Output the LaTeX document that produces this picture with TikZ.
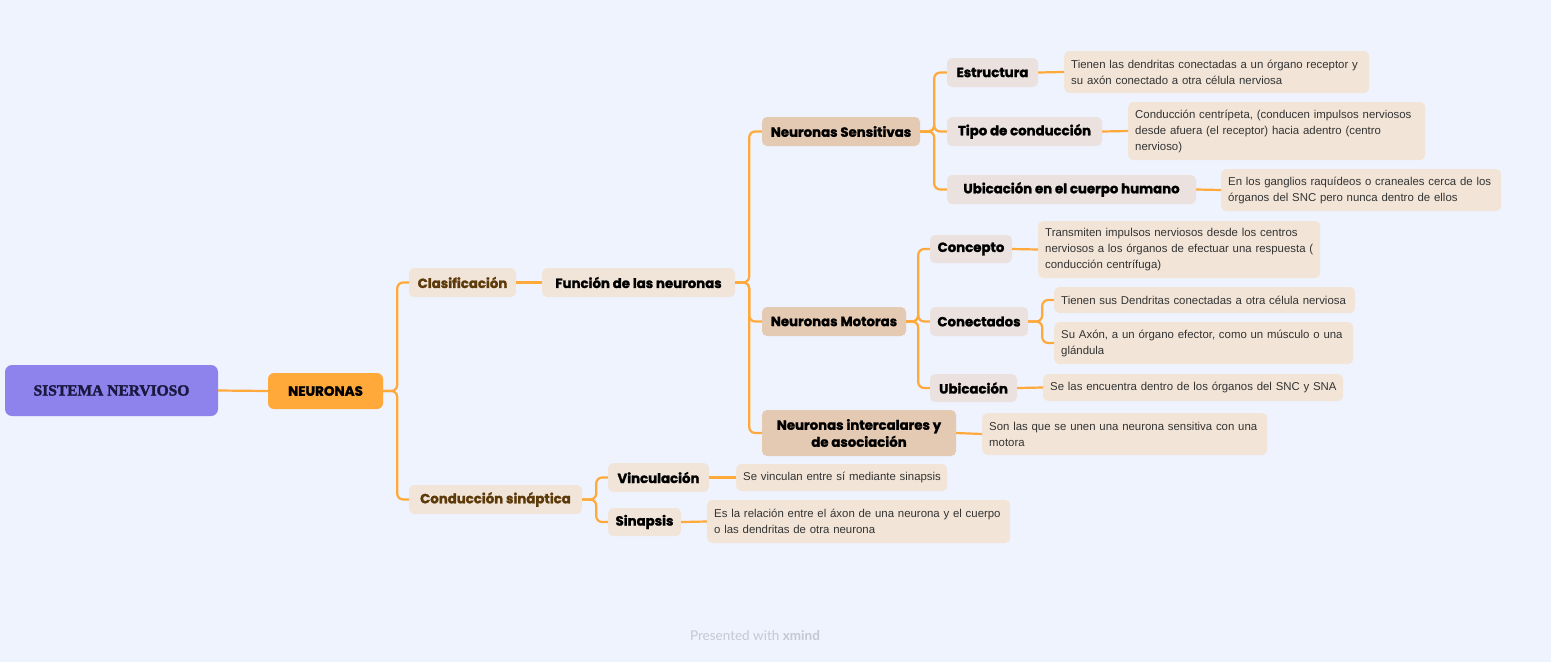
\documentclass[tikz,border=0pt]{standalone}
\usepackage{fontspec}
\setmainfont{Liberation Sans}
\newfontfamily\hfont{Poppins}[BoldFeatures={FakeBold=1.6}]
\newfontfamily\tfont{Liberation Serif}[BoldFeatures={FakeBold=2}]
\newfontfamily\pfont{Lato}
\newcommand\lne[1]{\mbox{#1}}
\definecolor{bgc}{HTML}{EEF3FE}
\definecolor{purp}{HTML}{8E83EC}
\definecolor{orng}{HTML}{FFA93A}
\definecolor{lvA}{HTML}{F1E5D9}
\definecolor{lvB}{HTML}{E4C9B3}
\definecolor{lvC}{HTML}{EBE1DF}
\definecolor{txb}{HTML}{F2E5D8}
\definecolor{brwn}{HTML}{5C3A0A}
\definecolor{navy}{HTML}{1A1840}
\definecolor{bodyc}{HTML}{333333}
\definecolor{grayt}{HTML}{C3C8D4}
\begin{document}
\begin{tikzpicture}[x=1pt,y=-1pt,
  hbox/.style={rounded corners=5pt, inner sep=0pt, align=center,
    font=\hfont\bfseries\fontsize{13.3}{15}\selectfont},
  tbox/.style={rounded corners=5pt, fill=txb, inner xsep=7pt, inner ysep=0pt,
    anchor=west, align=left, text=bodyc,
    font=\fontsize{11.4}{16}\selectfont},
  conn/.style={draw=orng, line width=2.2pt, rounded corners=6pt}]
\fill[bgc] (0,0) rectangle (1551,662);
\useasboundingbox (0,0) rectangle (1551,662);

% main nodes
\node[hbox, fill=purp, rounded corners=7pt, minimum width=213pt, minimum height=51pt, text=navy,
  font=\tfont\bfseries\fontsize{15.5}{18}\selectfont] (sn) at (111.5,390.5) {SISTEMA NERVIOSO};
\node[hbox, fill=orng, rounded corners=6pt, minimum width=115pt, minimum height=36pt,
  font=\hfont\bfseries\fontsize{13.5}{15}\selectfont] (neu) at (325.5,391) {NEURONAS};
\node[hbox, fill=lvA, text=brwn, minimum width=107pt, minimum height=29pt] (cla) at (462.5,282.5) {Clasificación};
\node[hbox, fill=lvA, minimum width=193pt, minimum height=29pt] (fun) at (638.5,282.5) {Función de las neuronas};
\node[hbox, fill=lvA, text=brwn, minimum width=173pt, minimum height=29pt] (con) at (495.5,499.5) {Conducción sináptica};
\node[hbox, fill=lvB, minimum width=158pt, minimum height=29pt] (sen) at (841,131.5) {Neuronas Sensitivas};
\node[hbox, fill=lvB, minimum width=144pt, minimum height=29pt] (mot) at (834,321.5) {Neuronas Motoras};
\node[hbox, fill=lvB, minimum width=194pt, minimum height=46pt,
  font=\hfont\bfseries\fontsize{13.3}{17}\selectfont] (int) at (859,433) {Neuronas intercalares y\\de asociación};
\node[hbox, fill=lvC, minimum width=91pt, minimum height=29pt] (est) at (992.5,72.5) {Estructura};
\node[hbox, fill=lvC, minimum width=155pt, minimum height=29pt] (tip) at (1024.5,131.5) {Tipo de conducción};
\node[hbox, fill=lvC, minimum width=249pt, minimum height=29pt] (ubi) at (1071.5,189.5) {Ubicación en el cuerpo humano};
\node[hbox, fill=lvC, minimum width=82pt, minimum height=28pt] (cpt) at (971,249) {Concepto};
\node[hbox, fill=lvC, minimum width=98pt, minimum height=29pt] (cnt) at (979,321.5) {Conectados};
\node[hbox, fill=lvC, minimum width=87pt, minimum height=28pt] (ubm) at (973.5,388) {Ubicación};
\node[hbox, fill=lvA, minimum width=101pt, minimum height=29pt] (vin) at (658.5,477.5) {Vinculación};
\node[hbox, fill=lvA, minimum width=73pt, minimum height=28pt] (sin) at (644.5,522) {Sinapsis};

% text boxes
\node[tbox, text width=291pt, minimum height=42pt] (t1) at (1064,72) {\lne{Tienen las dendritas conectadas a un órgano receptor y}\\\lne{su axón conectado a otra célula nerviosa}};
\node[tbox, text width=283pt, minimum height=58pt] (t2) at (1128,131) {\lne{Conducción centrípeta, (conducen impulsos nerviosos}\\\lne{desde afuera (el receptor) hacia adentro (centro}\\\lne{nervioso)}};
\node[tbox, text width=266pt, minimum height=42pt] (t3) at (1221,190) {\lne{En los ganglios raquídeos o craneales cerca de los}\\\lne{órganos del SNC pero nunca dentro de ellos}};
\node[tbox, text width=268pt, minimum height=57pt] (t4) at (1038,249.5) {\lne{Transmiten impulsos nerviosos desde los centros}\\\lne{nerviosos a los órganos de efectuar una respuesta (}\\\lne{conducción centrífuga)}};
\node[tbox, text width=287pt, minimum height=26pt] (t5) at (1054,300) {\lne{Tienen sus Dendritas conectadas a otra célula nerviosa}};
\node[tbox, text width=285pt, minimum height=42pt] (t6) at (1054,343) {\lne{Su Axón, a un órgano efector, como un músculo o una}\\\lne{glándula}};
\node[tbox, text width=286pt, minimum height=27pt] (t7) at (1043,387.5) {\lne{Se las encuentra dentro de los órganos del SNC y SNA}};
\node[tbox, text width=271pt, minimum height=42pt] (t8) at (982,434) {\lne{Son las que se unen una neurona sensitiva con una}\\\lne{motora}};
\node[tbox, text width=197pt, minimum height=27pt] (t9) at (736,477.5) {\lne{Se vinculan entre sí mediante sinapsis}};
\node[tbox, text width=289pt, minimum height=43pt] (t10) at (707,521.5) {\lne{Es la relación entre el áxon de una neurona y el cuerpo}\\\lne{o las dendritas de otra neurona}};

% connectors
\draw[conn] (sn.east) -- (neu.west);
\draw[conn] (neu.east) -- ++(14,0) |- (cla.west);
\draw[conn] (neu.east) -- ++(14,0) |- (con.west);
\draw[conn] (cla.east) -- (fun.west);
\draw[conn] (fun.east) -- ++(14,0) |- (sen.west);
\draw[conn] (fun.east) -- ++(14,0) |- (mot.west);
\draw[conn] (fun.east) -- ++(14,0) |- (int.west);
\draw[conn] (sen.east) -- ++(14,0) |- (est.west);
\draw[conn] (sen.east) -- ++(14,0) |- (tip.west);
\draw[conn] (sen.east) -- ++(14,0) |- (ubi.west);
\draw[conn] (est.east) -- (t1.west);
\draw[conn] (tip.east) -- (t2.west);
\draw[conn] (ubi.east) -- (t3.west);
\draw[conn] (mot.east) -- ++(12,0) |- (cpt.west);
\draw[conn] (mot.east) -- ++(12,0) |- (cnt.west);
\draw[conn] (mot.east) -- ++(12,0) |- (ubm.west);
\draw[conn] (cpt.east) -- (t4.west);
\draw[conn] (cnt.east) -- ++(14,0) |- (t5.west);
\draw[conn] (cnt.east) -- ++(14,0) |- (t6.west);
\draw[conn] (ubm.east) -- (t7.west);
\draw[conn] (int.east) -- (t8.west);
\draw[conn] (con.east) -- ++(14,0) |- (vin.west);
\draw[conn] (con.east) -- ++(14,0) |- (sin.west);
\draw[conn] (vin.east) -- (t9.west);
\draw[conn] (sin.east) -- (t10.west);

\node[text=grayt, font=\pfont\fontsize{13.5}{15}\selectfont] (pw) at (755,636) {Presented with \textbf{xmind}};
\end{tikzpicture}
\end{document}
